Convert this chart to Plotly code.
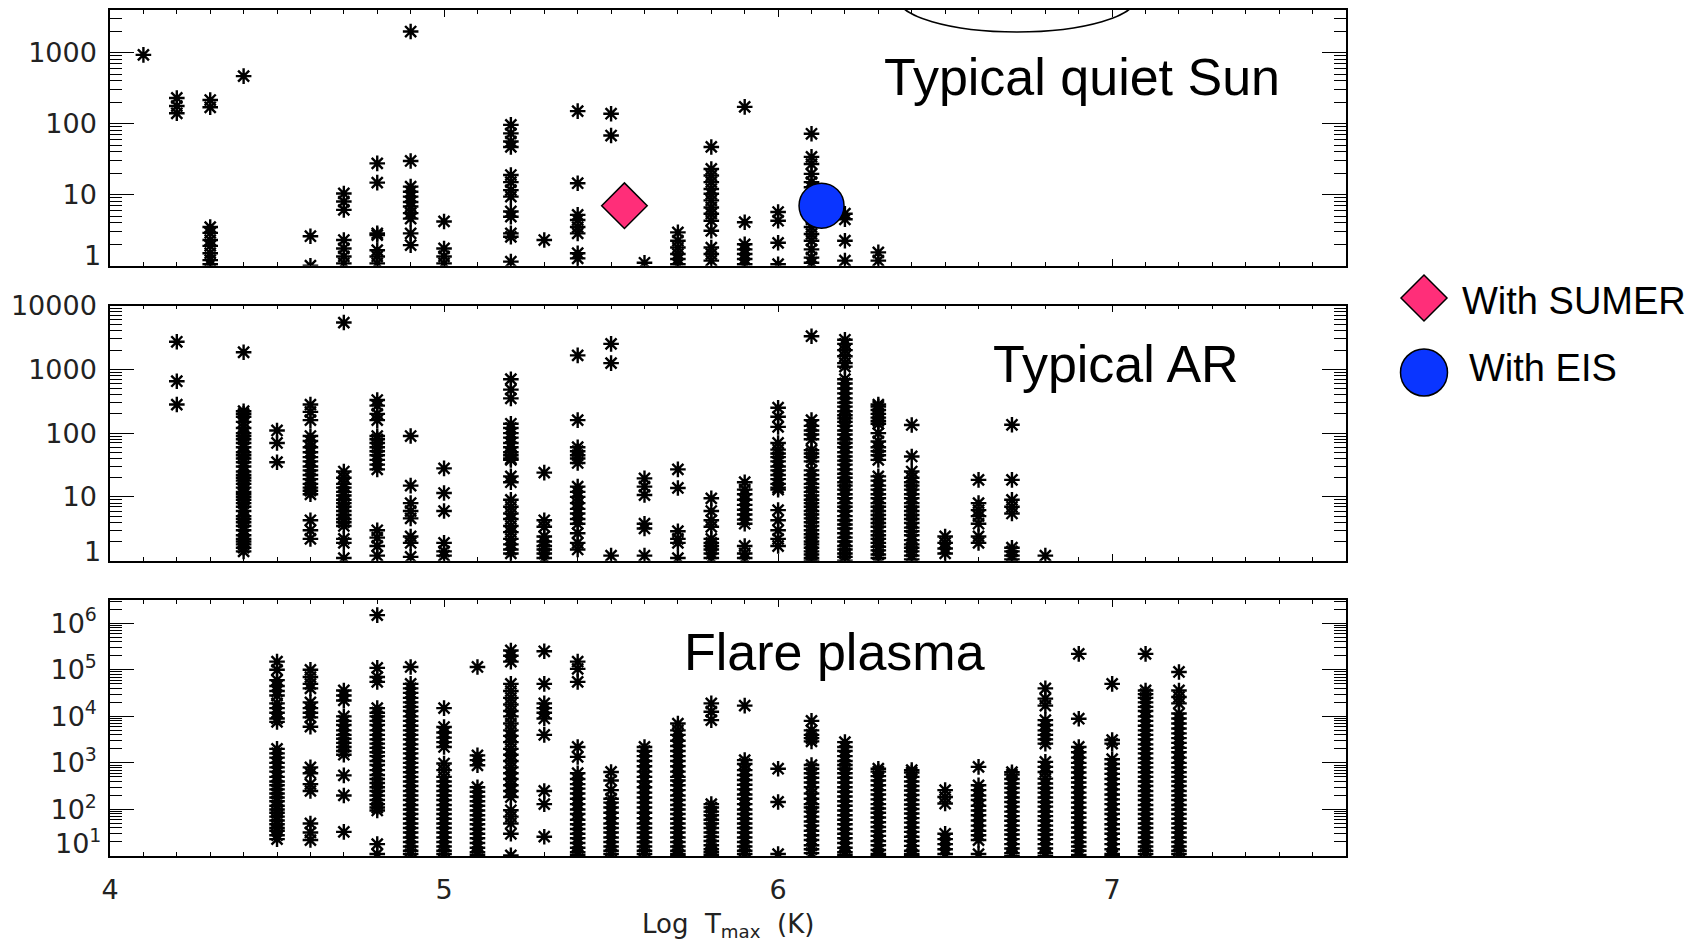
import plotly.graph_objects as go

# ---------------- data ----------------
# Typical quiet Sun: log Tmax columns and values
qs_logt = [4.1, 4.2, 4.3, 4.4, 4.6, 4.7, 4.8, 4.9, 5.0, 5.2, 5.3, 5.4, 5.5, 5.6,
           5.7, 5.8, 5.9, 6.0, 6.1, 6.2, 6.3]
qs_vals = [
    [930],
    [230, 177, 140],
    [215, 170, 3.5, 2.9, 2.3, 1.9, 1.5, 1.2, 1.05],
    [467],
    [2.6, 1.0],
    [10.4, 8, 6.1, 2.3, 1.75, 1.35, 1.08],
    [27.6, 14.8, 2.85, 2.7, 1.65, 1.35, 1.08],
    [1980, 29.8, 13, 11, 9.4, 7.9, 6.8, 5.5, 4.6, 2.85, 1.95],
    [4.2, 1.75, 1.35, 1.08],
    [96, 73, 56, 47, 18.9, 15, 11.6, 9.4, 5.8, 4.9, 2.85, 2.55, 1.14],
    [2.3],
    [150, 14.5, 5.2, 4.4, 3.5, 2.85, 1.5, 1.27],
    [138, 68],
    [1.1],
    [2.95, 2.25, 1.8, 1.46, 1.24, 1.05],
    [47, 23, 18.6, 15, 12, 10.3, 8.3, 6.6, 5.4, 4.3, 3.1, 1.8, 1.46, 1.18],
    [172, 4.1, 2.0, 1.7, 1.46, 1.24, 1.05],
    [5.7, 4.3, 2.1, 1.05],
    [72, 34, 27, 19.6, 15, 12.7, 10, 8.3, 6, 4.5, 3.5, 2.8, 2.25, 1.7, 1.3, 1.1],
    [5.4, 4.5, 2.25, 1.18],
    [1.54, 1.18],
]

# Typical AR
ar_logt = [4.2, 4.4, 4.5, 4.6, 4.7, 4.8, 4.9, 5.0, 5.2, 5.3, 5.4, 5.5, 5.6, 5.7,
           5.8, 5.9, 6.0, 6.1, 6.2, 6.3, 6.4, 6.5, 6.6, 6.7, 6.8]
ar_vals = [
    [2700, 650, 280],
    [1850, 220, 200, 180, 150, 120, 100, 90, 80, 70, 60, 50, 45, 40, 35, 30, 25, 22,
     20, 18, 16, 14, 12, 11, 10, 9, 8, 7, 6, 5, 4.5, 4, 3.5, 3, 2.5, 2.2, 2, 1.8, 1.6, 1.4],
    [110, 70, 35],
    [280, 215, 160, 90, 75, 60, 50, 42, 36, 30, 26, 22, 19, 16, 14, 12.5, 11, 4.3, 3.0, 2.2],
    [5400, 25, 20, 16, 14, 12, 10.5, 9, 8, 7, 6, 5.2, 4.5, 4, 3.5, 2.2, 1.9, 1.1],
    [330, 270, 200, 160, 90, 80, 70, 60, 52, 45, 38, 32, 27, 3.0, 2.3, 1.7, 1.2],
    [90, 15, 8, 6, 4.6, 2.4, 1.9, 1.15],
    [28, 11.5, 6, 1.9, 1.4, 1.2],
    [700, 480, 350, 140, 120, 100, 85, 70, 60, 50, 45, 40, 38, 21, 17, 9, 7, 5.5, 4.5,
     3.5, 2.8, 2.2, 1.8, 1.5, 1.3],
    [24, 4.3, 3.4, 2.4, 2.0, 1.7, 1.5, 1.3, 1.1],
    [1650, 160, 60, 52, 45, 40, 34, 14.5, 12, 10, 8, 6.5, 5.5, 4.5, 3.8, 2.7, 1.9, 1.5],
    [2500, 1250, 1.2],
    [19.5, 14.5, 10.7, 3.8, 3.2, 1.2],
    [27, 13.8, 2.9, 2.2, 1.9, 1.1],
    [9.5, 6, 4.3, 3.4, 2.2, 1.9, 1.7, 1.5, 1.3, 1.1],
    [17, 13, 11, 9, 7.5, 6.3, 5.3, 4.4, 3.8, 1.7, 1.3, 1.1],
    [250, 180, 125, 70, 55, 48, 42, 36, 30, 26, 22, 19, 16, 14, 13, 6.2, 4.3, 3.0, 2.2, 1.7],
    [3300, 160, 130, 110, 95, 80, 54, 48, 42, 36, 26, 22, 19, 16, 14, 12, 10.5, 9, 8, 7,
     6, 5.3, 4.6, 4, 3.5, 3, 2.6, 2.3, 2, 1.8, 1.6, 1.4, 1.25, 1.1, 1.0],
    [2900, 2500, 2000, 1600, 1250, 1100, 700, 600, 500, 420, 350, 300, 260, 220, 190,
     170, 150, 130, 110, 95, 80, 70, 60, 50, 43, 37, 32, 27, 23, 20, 17, 15, 13, 11,
     9.5, 8, 7, 6, 5, 4.3, 3.7, 3.2, 2.7, 2.3, 2, 1.7, 1.5, 1.3, 1.15, 1.0],
    [280, 260, 230, 200, 175, 155, 140, 100, 74, 60, 52, 45, 38, 21, 18, 15, 13, 11,
     9.5, 8, 7, 6, 5.2, 4.5, 3.9, 3.4, 2.9, 2.5, 2.2, 1.9, 1.65, 1.45, 1.25, 1.1],
    [134, 43, 25, 20, 17, 15, 13, 11, 9.5, 8, 7, 6, 5.2, 4.5, 3.9, 3.3, 2.9, 2.5, 2.1,
     1.8, 1.6, 1.4, 1.2, 1.05],
    [2.4, 1.9, 1.55, 1.3],
    [18.5, 8, 6.2, 5, 3.8, 2.4, 1.9],
    [135, 18.5, 9, 7, 5.5, 1.6, 1.4, 1.2, 1.05],
    [1.2],
]

# Flare plasma
fl_logt = [4.5, 4.6, 4.7, 4.8, 4.9, 5.0, 5.1, 5.2, 5.3, 5.4, 5.5, 5.6, 5.7, 5.8, 5.9,
           6.0, 6.1, 6.2, 6.3, 6.4, 6.5, 6.6, 6.7, 6.8, 6.9, 7.0, 7.1, 7.2]
fl_vals = [
    [1.5e5, 1e5, 6e4, 4.5e4, 3.5e4, 2.8e4, 1.9e4, 1.5e4, 1.2e4, 9e3, 7.6e3, 2e3, 1.6e3,
     1.3e3, 1e3, 800, 650, 500, 400, 330, 270, 220, 180, 150, 120, 100, 85, 70, 58, 48,
     40, 35, 28, 23],
    [1e5, 7e4, 5e4, 4e4, 2e4, 1.5e4, 1.2e4, 9.5e3, 6e3, 800, 600, 350, 250, 50, 32, 22],
    [3.6e4, 2.8e4, 2.2e4, 1e4, 8e3, 6.5e3, 5e3, 4e3, 3.3e3, 2.7e3, 2.2e3, 1.8e3, 1.5e3,
     540, 200, 33],
    [1.5e6, 1.1e5, 7e4, 5.5e4, 1.5e4, 1.2e4, 1e4, 8e3, 6.5e3, 5e3, 4e3, 3.2e3, 2.6e3,
     2.1e3, 1.7e3, 1.4e3, 1.1e3, 900, 700, 550, 450, 370, 300, 250, 200, 160, 130, 110,
     95, 18, 11],
    [1.15e5, 5e4, 4e4, 3.2e4, 2.5e4, 2e4, 1.6e4, 1.3e4, 1e4, 8e3, 6.3e3, 5e3, 4e3, 3.2e3,
     2.5e3, 2e3, 1.6e3, 1.25e3, 1e3, 800, 630, 500, 400, 320, 250, 200, 160, 125, 100,
     80, 63, 50, 40, 32, 25, 20, 16, 13, 11],
    [1.5e4, 5.9e3, 4.5e3, 3.5e3, 2.8e3, 2.2e3, 970, 700, 500, 400, 320, 250, 200, 160,
     125, 100, 80, 63, 50, 40, 32, 25, 20, 16, 13, 11],
    [1.15e5, 1.45e3, 1.15e3, 890, 300, 240, 190, 150, 120, 95, 75, 60, 48, 38, 30, 24,
     19, 15, 12, 10.5],
    [2.6e5, 2e5, 1.5e5, 5e4, 3.5e4, 2.5e4, 1.8e4, 1.3e4, 1e4, 7e3, 5e3, 3.8e3, 2.8e3,
     2e3, 1.5e3, 1.1e3, 800, 600, 450, 330, 250, 185, 96, 70, 50, 30, 10.3],
    [2.5e5, 5e4, 1.9e4, 1.5e4, 1.2e4, 9e3, 4e3, 250, 130, 26],
    [1.5e5, 1.05e5, 5.5e4, 2.2e3, 1.35e3, 600, 450, 350, 280, 220, 170, 130, 100, 80,
     60, 48, 38, 30, 24, 19, 15, 12, 10.5],
    [640, 420, 260, 170, 140, 110, 85, 65, 50, 40, 32, 25, 20, 16, 13, 11],
    [2.2e3, 1.8e3, 1.4e3, 1.1e3, 850, 650, 500, 400, 300, 230, 180, 140, 110, 85, 65,
     50, 40, 32, 25, 20, 16, 13, 11],
    [7e3, 5e3, 4e3, 3e3, 2.3e3, 1.8e3, 1.4e3, 1.1e3, 850, 650, 500, 420, 330, 260, 200,
     160, 125, 100, 80, 63, 50, 40, 32, 25, 20, 16, 13, 11, 10],
    [1.9e4, 1.26e4, 8.3e3, 130, 110, 90, 75, 60, 50, 40, 32, 26, 21, 17, 14, 12, 10.5],
    [1.7e4, 1.15e3, 950, 700, 550, 430, 340, 270, 210, 170, 130, 100, 80, 63, 50, 40,
     32, 25, 20, 16, 13, 11],
    [750, 145, 11],
    [8e3, 5e3, 4e3, 3.4e3, 2.9e3, 900, 750, 600, 480, 380, 300, 220, 170, 130, 110, 90,
     70, 55, 45, 35, 28, 22, 17, 14, 11.5],
    [2.8e3, 2.2e3, 1.8e3, 1.4e3, 1.1e3, 900, 750, 600, 480, 380, 300, 240, 190, 150,
     120, 95, 75, 60, 48, 38, 30, 24, 19, 15, 12, 10.5],
    [750, 650, 520, 420, 330, 260, 210, 165, 130, 105, 85, 67, 53, 42, 34, 27, 21, 17,
     13.5, 11, 10],
    [700, 620, 500, 400, 320, 255, 205, 160, 128, 102, 82, 65, 52, 41, 33, 26, 21, 16.5,
     13, 11, 10],
    [260, 185, 134, 30, 23, 18, 14, 11],
    [820, 330, 260, 200, 160, 120, 95, 75, 58, 45, 35, 28, 22, 11],
    [630, 560, 450, 360, 290, 230, 180, 145, 115, 90, 72, 57, 45, 36, 29, 23, 18, 14.5,
     11.5, 10],
    [4e4, 2.4e4, 1.7e4, 8.3e3, 6.5e3, 5e3, 4e3, 3.2e3, 2.6e3, 1.05e3, 820, 640, 460,
     360, 290, 230, 180, 145, 115, 90, 72, 57, 45, 36, 29, 23, 18, 14.5, 11.5, 10],
    [2.2e5, 8.9e3, 2.2e3, 1.7e3, 1.3e3, 1e3, 800, 620, 480, 380, 300, 230, 180, 140,
     110, 85, 67, 52, 41, 32, 25, 20, 16, 13, 10.5],
    [5e4, 3.1e3, 2.6e3, 1.2e3, 950, 750, 580, 450, 350, 270, 210, 165, 130, 100, 80, 62,
     48, 38, 30, 23, 18, 14, 11, 10],
    [2.2e5, 3.6e4, 3e4, 2.5e4, 2e4, 1.6e4, 1.3e4, 1e4, 8e3, 6.3e3, 5e3, 4e3, 3.2e3,
     2.5e3, 2e3, 1.6e3, 1.25e3, 1e3, 800, 630, 500, 400, 320, 250, 200, 160, 125, 100,
     80, 63, 50, 40, 32, 25, 20, 16, 13, 11],
    [9e4, 3.6e4, 2.6e4, 1.9e4, 1.15e4, 9e3, 7e3, 5.5e3, 4.3e3, 3.4e3, 2.7e3, 2.1e3,
     1.7e3, 1.3e3, 1e3, 800, 630, 500, 400, 320, 250, 200, 160, 125, 100, 80, 63, 50,
     40, 32, 25, 20, 16, 13, 11],
]

# Instrument points (quiet Sun panel)
sumer_logt, sumer_val = [5.54], [7.0]
eis_logt, eis_val = [6.13], [7.0]

panel_titles = ["Typical quiet Sun", "Typical AR", "Flare plasma"]
legend_labels = ["With SUMER", "With EIS"]
x_ticks = [4, 5, 6, 7]
qs_yticks = [1, 10, 100, 1000]
ar_yticks = [1, 10, 100, 1000, 10000]
fl_yticks = [10, 100, 1e3, 1e4, 1e5, 1e6]
fl_ytext = ["10<sup>1</sup>", "10<sup>2</sup>", "10<sup>3</sup>", "10<sup>4</sup>",
            "10<sup>5</sup>", "10<sup>6</sup>"]

SUMER_COLOR = "#ff2e79"
EIS_COLOR = "#0a35ff"

# ---------------- figure ----------------
# the page body adds an 8 px offset; targets below are in screen pixels
OFF = 8
W, H = 1698, 944
ML, MT = 110 - OFF, 10 - OFF
PW, PH = 1236, 846
MR, MB = W - ML - PW, H - MT - PH


def px_x(sx):
    return (sx - OFF - ML) / PW


def px_y(sy):
    return (MT + PH - (sy - OFF)) / PH


def flatten(ts, vals):
    xs, ys = [], []
    for t, vs in zip(ts, vals):
        for v in vs:
            xs.append(t)
            ys.append(v)
    return xs, ys


fig = go.Figure()
star = dict(symbol="asterisk-open", size=13, color="black",
            line=dict(color="black", width=2.4))

for (ts, vals), (xa, ya) in zip(
        [(qs_logt, qs_vals), (ar_logt, ar_vals), (fl_logt, fl_vals)],
        [("x", "y"), ("x2", "y2"), ("x3", "y3")]):
    xs, ys = flatten(ts, vals)
    fig.add_trace(go.Scatter(x=xs, y=ys, mode="markers", marker=star,
                             xaxis=xa, yaxis=ya, showlegend=False, hoverinfo="x+y"))

fig.add_trace(go.Scatter(x=sumer_logt, y=sumer_val, mode="markers", name=legend_labels[0],
                         marker=dict(symbol="diamond", size=35, color=SUMER_COLOR,
                                     line=dict(color="black", width=1.5)),
                         xaxis="x", yaxis="y", showlegend=False))
fig.add_trace(go.Scatter(x=eis_logt, y=eis_val, mode="markers", name=legend_labels[1],
                         marker=dict(symbol="circle", size=45, color=EIS_COLOR,
                                     line=dict(color="black", width=1.5)),
                         xaxis="x", yaxis="y", showlegend=False))

tick_font = dict(family="DejaVu Sans", size=27, color="#222222")


def xaxis(anchor, labels):
    return dict(domain=[0, 1], anchor=anchor, range=[4, 7.7], tickmode="array",
                tickvals=x_ticks, ticktext=[str(v) for v in x_ticks],
                showticklabels=labels, ticks="inside", ticklen=7, tickwidth=1.3,
                tickcolor="black", showline=True, linecolor="black", linewidth=1.5,
                mirror="ticks", showgrid=False, zeroline=False, tickfont=tick_font,
                ticklabelstandoff=9, automargin=False,
                minor=dict(ticks="inside", ticklen=4, tickwidth=1, tickcolor="black",
                           dtick=0.1, tick0=4, showgrid=False))


def yaxis(anchor, dom, rng, tv, tt):
    return dict(domain=dom, anchor=anchor, type="log", range=rng, tickmode="array",
                tickvals=tv, ticktext=tt, ticks="inside", ticklen=24, tickwidth=1.3,
                tickcolor="black", showline=True, linecolor="black", linewidth=1.5,
                mirror="ticks", showgrid=False, zeroline=False, tickfont=tick_font,
                ticklabelstandoff=6, automargin=False,
                minor=dict(ticks="inside", ticklen=12, tickwidth=1, tickcolor="black",
                           dtick="D1", showgrid=False))


fig.update_layout(
    width=W, height=H, autosize=False,
    margin=dict(l=ML, r=MR, t=MT, b=MB, autoexpand=False),
    paper_bgcolor="white", plot_bgcolor="white",
    showlegend=False,
    xaxis=xaxis("y", False),
    xaxis2=xaxis("y2", False),
    xaxis3=xaxis("y3", True),
    yaxis=yaxis("x", [px_y(265.7), 1.0], [0, 3.6], qs_yticks,
                [""] + [str(v) for v in qs_yticks[1:]]),
    yaxis2=yaxis("x2", [px_y(560.7), px_y(305.5)], [0, 4.0], ar_yticks,
                 [""] + [str(v) for v in ar_yticks[1:]]),
    yaxis3=yaxis("x3", [0, px_y(600)], [1, 6.5], fl_yticks, [""] + fl_ytext[1:]),
)

annos = []
# bottom y labels, raised slightly as in the original
for txt, sy in [(str(qs_yticks[0]), 256), (str(ar_yticks[0]), 552), (fl_ytext[0], 841)]:
    annos.append(dict(text=txt, xref="paper", yref="paper", x=0, y=px_y(sy),
                      xanchor="right", yanchor="middle", xshift=-7, showarrow=False,
                      font=tick_font))
# panel titles
big = dict(family="Liberation Sans, Arial", size=52, color="black")
for txt, cx, cy in [(panel_titles[0], 1082, 77), (panel_titles[1], 1116, 364),
                    (panel_titles[2], 834, 652)]:
    annos.append(dict(text=txt, xref="paper", yref="paper", x=px_x(cx), y=px_y(cy),
                      xanchor="center", yanchor="middle", showarrow=False, font=big))
# axis title
annos.append(dict(text="Log  T<sub>max</sub>  (K)", xref="paper", yref="paper",
                  x=0.5, y=px_y(925), xanchor="center", yanchor="middle",
                  showarrow=False, font=dict(family="DejaVu Sans", size=26,
                                              color="#222222")))
# legend texts
leg_font = dict(family="Liberation Sans, Arial", size=38, color="black")
annos.append(dict(text=legend_labels[0], xref="paper", yref="paper", x=px_x(1460),
                  y=px_y(301), xanchor="left", yanchor="middle", showarrow=False,
                  font=leg_font))
annos.append(dict(text=legend_labels[1], xref="paper", yref="paper", x=px_x(1467),
                  y=px_y(368), xanchor="left", yanchor="middle", showarrow=False,
                  font=leg_font))
fig.update_layout(annotations=annos)

# legend symbols and the partial ellipse at the top
cxd, cyd, hd = 1424, 298, 23
diamond_path = "M {} {} L {} {} L {} {} L {} {} Z".format(
    px_x(cxd - hd), px_y(cyd), px_x(cxd), px_y(cyd - hd),
    px_x(cxd + hd), px_y(cyd), px_x(cxd), px_y(cyd + hd))
shapes = [
    dict(type="path", xref="paper", yref="paper", path=diamond_path,
         fillcolor=SUMER_COLOR, line=dict(color="black", width=1.5)),
    dict(type="circle", xref="paper", yref="paper", x0=px_x(1400.5), x1=px_x(1447.5),
         y0=px_y(396), y1=px_y(349), fillcolor=EIS_COLOR,
         line=dict(color="black", width=1.5)),
    dict(type="circle", xref="paper", yref="paper", x0=px_x(897), x1=px_x(1137),
         y0=px_y(32), y1=px_y(-38), line=dict(color="black", width=1.5),
         fillcolor="rgba(0,0,0,0)"),
]
fig.update_layout(shapes=shapes)

fig.write_html("out.html")
